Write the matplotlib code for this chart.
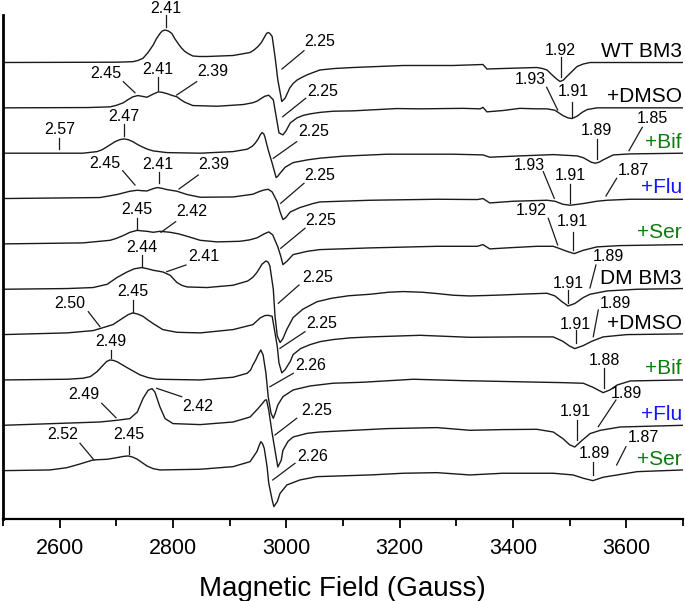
import matplotlib.pyplot as plt

plt.rcParams['font.family'] = ['Liberation Sans', 'DejaVu Sans']

# EPR spectra (first derivative): (field in Gauss, intensity in a.u.)
wt = [(2500, 0), (2700, 0.3), (2729, 0.8), (2738, 2), (2747, 4.2), (2756, 10), (2765, 17.5), (2771, 24),
      (2777, 29), (2781, 31.5), (2786, 32.5), (2792, 31.5), (2798, 29), (2803, 24), (2809, 19), (2815, 14.5),
      (2821, 11), (2828, 8.5), (2835, 6.5), (2847, 6), (2860, 6), (2906, 7), (2936, 10), (2943, 12.5),
      (2950, 16), (2956, 20), (2962, 26), (2965, 29), (2968, 30), (2971, 29), (2975, 26), (2980, 6),
      (2985, -17.5), (2992, -39), (2998, -35.5), (3006, -25.5), (3012, -21), (3019, -17.5), (3027, -15),
      (3036, -12.5), (3045, -10.5), (3059, -7.5), (3085, -6), (3118, -5), (3206, -3), (3294, -3), (3347, -2),
      (3354, -6.5), (3382, -6), (3442, -5), (3452, -6), (3460, -7.5), (3471, -13.5), (3477, -16.5),
      (3483, -19), (3489, -17.5), (3495, -14), (3504, -9), (3513, -4), (3524, -1.5), (3536, 0), (3589, 0),
      (3700, 0)]

wt_dmso = [(2500, 0), (2650, 0.3), (2689, 1), (2700, 2.5), (2712, 5), (2720, 8), (2729, 11), (2738, 12.3),
           (2746, 11.5), (2754, 10.6), (2764, 13.5), (2774, 16), (2781, 15.5), (2789, 14.3), (2798, 12.5),
           (2807, 11), (2814, 8), (2821, 5.6), (2835, 2.3), (2878, 1.6), (2924, 3.3), (2940, 5), (2948, 6.6),
           (2956, 9.5), (2962, 11.6), (2969, 12.6), (2977, 8), (2982, -8.4), (2987, -25), (2994, -27),
           (2999, -23.4), (3007, -15), (3019, -10), (3030, -7.5), (3042, -6), (3060, -4.5), (3082, -3.4),
           (3118, -3), (3195, -0.7), (3236, -1), (3312, -0.5), (3342, -1), (3347, 0.5), (3354, -4),
           (3382, -2.7), (3412, -0.5), (3442, -1), (3460, -1), (3474, -2.4), (3488, -7.7), (3497, -10),
           (3504, -10.7), (3513, -8.4), (3522, -4.5), (3531, -1.7), (3548, 0), (3700, 0)]

wt_bif = [(2500, 0), (2641, 0), (2666, 1.6), (2675, 3.5), (2684, 6.6), (2698, 11.6), (2706, 13.5),
          (2714, 14.3), (2721, 13.5), (2729, 11.6), (2738, 8.5), (2747, 6), (2756, 3.8), (2765, 2.3),
          (2789, 0.6), (2848, 0), (2906, 1.6), (2931, 4), (2940, 7), (2945, 10), (2950, 14), (2954, 18.3),
          (2957, 20.6), (2960, 19.5), (2962, 16.6), (2968, 3.3), (2975, -10), (2982, -24.4), (2985, -23),
          (2989, -20), (2998, -14), (3012, -9.4), (3037, -6.7), (3059, -5), (3100, -3), (3178, -1),
          (3294, -1), (3347, -1.7), (3359, -4), (3412, -2.7), (3471, -1.4), (3513, -2.7), (3524, -4.5),
          (3531, -6.7), (3538, -9), (3545, -10), (3552, -9), (3559, -6.7), (3577, -1.7), (3607, -0.7),
          (3700, 0)]

wt_flu = [(2500, 0), (2671, 1), (2701, 4), (2724, 7.3), (2737, 8.3), (2746, 7.8), (2754, 7.6), (2763, 9.5),
          (2772, 11), (2780, 10.3), (2789, 9), (2807, 7.3), (2825, 4), (2848, 1.3), (2906, 1.6), (2941, 4.3),
          (2950, 6.5), (2959, 8.3), (2968, 9.3), (2975, 6.6), (2984, -3.4), (2989, -13.4), (2994, -21),
          (2999, -19), (3007, -13.4), (3024, -9), (3047, -5), (3059, -3.4), (3148, -1.7), (3266, -0.7),
          (3337, -1), (3347, 0), (3359, -4.4), (3400, -2.7), (3460, -1.7), (3474, -2.7), (3488, -5.7),
          (3501, -6.7), (3524, -5), (3548, -2.7), (3566, -1.7), (3607, -0.7), (3700, -0.7)]

wt_ser = [(2500, 0), (2641, 1), (2689, 3.6), (2700, 5.5), (2712, 8.3), (2724, 11.6), (2737, 13.6),
          (2745, 13), (2754, 12.6), (2765, 11.6), (2777, 12.6), (2795, 11.6), (2810, 10), (2825, 7.6),
          (2848, 3.6), (2878, 2), (2918, 2.6), (2935, 4), (2948, 6), (2962, 10.3), (2969, 12), (2976, 9),
          (2985, -3), (2990, -12), (2994, -20.7), (3001, -17.4), (3012, -10.7), (3037, -7.4), (3059, -5.7),
          (3148, -4), (3266, -2.4), (3337, -2.4), (3347, -0.7), (3359, -5), (3389, -4), (3442, -2.4),
          (3471, -2.4), (3479, -4), (3495, -7.4), (3508, -9.7), (3524, -6.4), (3548, -3), (3589, -1.7),
          (3700, -0.7)]

dm = [(2500, 0), (2613, 0.7), (2659, 1.7), (2684, 5), (2701, 11.7), (2719, 17.3), (2732, 20.5), (2745, 21.7),
      (2755, 20.5), (2765, 19), (2782, 17.3), (2795, 14), (2807, 6.7), (2816, 3.8), (2825, 2.3), (2860, 1.7),
      (2906, 4), (2932, 8.3), (2941, 12), (2948, 16.7), (2957, 25), (2964, 28.3), (2968, 27), (2971, 23.3),
      (2977, 0), (2980, -26.7), (2984, -46.7), (2989, -53.3), (2994, -49.3), (3001, -40), (3012, -28.3),
      (3029, -20), (3054, -12.5), (3080, -9), (3110, -6.5), (3148, -5), (3180, -3), (3206, -2.3),
      (3240, -3), (3266, -4.3), (3295, -6), (3324, -6.7), (3355, -6.2), (3382, -5.7), (3420, -4.8),
      (3460, -4), (3474, -6.7), (3487, -12.7), (3497, -16.7), (3509, -14.3), (3524, -8.3), (3536, -5),
      (3566, -1.7), (3619, 0), (3700, 0.7)]

dm_dmso = [(2500, 0), (2613, 1.7), (2659, 4), (2671, 6), (2694, 10), (2712, 16.7), (2721, 20), (2729, 21.7),
           (2738, 20.5), (2747, 18.3), (2756, 14.5), (2765, 11), (2782, 5), (2807, 2.3), (2848, 1.7),
           (2906, 5), (2941, 10), (2954, 16.7), (2962, 19), (2968, 19.3), (2975, 18.3), (2978, 8.3),
           (2984, -11.7), (2987, -28.3), (2992, -38.3), (2998, -35), (3007, -26.7), (3012, -20), (3025, -14),
           (3042, -10), (3060, -7), (3082, -5), (3112, -3.3), (3148, -2.3), (3236, -0.7), (3324, -2.7),
           (3412, -2.3), (3471, -2.3), (3488, -6.7), (3500, -11.5), (3509, -14), (3524, -11), (3539, -6.7),
           (3559, -2.3), (3601, 0), (3700, 0.7)]

dm_bif = [(2500, 0), (2613, 0.7), (2641, 1.7), (2654, 3.3), (2666, 8.3), (2677, 15), (2683, 18.5),
          (2689, 20), (2695, 19.5), (2701, 18.3), (2719, 12.3), (2742, 5), (2757, 2.2), (2772, 0.7),
          (2848, 0), (2906, 2.7), (2931, 6.7), (2937, 10), (2941, 15), (2946, 20), (2950, 25), (2955, 30),
          (2959, 25), (2964, 6.7), (2968, -16.7), (2973, -33.3), (2977, -38.3), (2980, -34), (2985, -25),
          (2994, -16.7), (3012, -10), (3042, -6), (3082, -3.3), (3135, -2.3), (3224, 0.7), (3312, -0.7),
          (3400, -1.7), (3488, -2.7), (3524, -3.3), (3541, -7.3), (3559, -12.7), (3571, -10), (3584, -5),
          (3607, -1), (3700, 0)]

dm_flu = [(2500, 0), (2671, 3.3), (2701, 5), (2724, 6.7), (2737, 13.3), (2747, 26.7), (2756, 35),
          (2763, 36.7), (2768, 33.3), (2777, 18.3), (2786, 6.7), (2800, 1.7), (2848, 0.7), (2906, 3.3),
          (2936, 8.3), (2950, 16.7), (2958, 22), (2962, 25), (2965, 25.5), (2969, 15), (2975, -8),
          (2980, -25), (2985, -41.7), (2991, -35), (2994, -25), (3003, -16), (3012, -11.7), (3037, -8),
          (3059, -6.7), (3178, -3.3), (3266, -2.3), (3324, -5), (3382, -4.3), (3442, -4), (3471, -6.7),
          (3488, -13.3), (3500, -19.5), (3509, -21.7), (3522, -15), (3536, -8.3), (3554, -5), (3589, -1.7),
          (3700, 0)]

dm_ser = [(2500, 0), (2583, 0.7), (2613, 3), (2636, 6.7), (2659, 10.7), (2684, 11.4), (2701, 13),
          (2712, 14.2), (2721, 14.7), (2729, 13.5), (2737, 11.4), (2754, 4.7), (2765, 2), (2777, 0.7),
          (2848, 1.4), (2906, 4), (2936, 9), (2948, 19), (2952, 25), (2955, 29), (2958, 27), (2961, 22.4),
          (2966, 4), (2969, -12.6), (2975, -29.3), (2978, -36), (2984, -31), (2989, -22.6), (3001, -14.3),
          (3024, -9.3), (3054, -6), (3148, -4.3), (3206, -2.6), (3266, -2), (3324, -4.3), (3382, -2.6),
          (3471, -2.6), (3506, -4.3), (3524, -7.6), (3541, -10), (3559, -6.6), (3584, -4.3), (3619, -1),
          (3700, 0.7)]

spectra = [wt, wt_dmso, wt_bif, wt_flu, wt_ser, dm, dm_dmso, dm_bif, dm_flu, dm_ser]
samples = ['WT BM3', '+DMSO', '+Bif', '+Flu', '+Ser', 'DM BM3', '+DMSO', '+Bif', '+Flu', '+Ser']
sample_colors = ['black', 'black', '#0f7a0f', '#1414ff', '#0f7a0f',
                 'black', 'black', '#0f7a0f', '#1414ff', '#0f7a0f']

# g-value labels: text, text centre, leader start, leader end (pixel positions on the figure)
g_labels = [
    ('2.41', 165.5, 7, 165.7, 15, 165.7, 26.7), ('2.25', 320, 40.7, 304, 50.7, 282, 69),
    ('1.92', 560.7, 49.3, 560.7, 57, 560.7, 77),
    ('2.45', 106, 72.3, 123.3, 81.7, 135, 92.7), ('2.41', 157.7, 68.3, 158.3, 77.3, 158.3, 90),
    ('2.39', 212.3, 70.7, 196.7, 81.7, 176.7, 95), ('2.25', 322.7, 90, 305.7, 98.3, 282.7, 116.7),
    ('1.93', 530, 78.3, 546.7, 87.3, 557.7, 110), ('1.91', 573.3, 90.7, 572.3, 101.7, 572.3, 116.7),
    ('2.57', 59.3, 128.3, 59.3, 138.3, 59.3, 149.3), ('2.47', 124.3, 115, 124.3, 124, 124.3, 136),
    ('2.25', 314, 130, 296.7, 141.7, 273.3, 158.3), ('1.89', 596.7, 129.3, 596.7, 139.3, 596.7, 159.3),
    ('1.85', 652.7, 117.3, 642.3, 127.3, 629, 150.7),
    ('2.45', 105, 161.7, 122.7, 170.7, 135, 185), ('2.41', 158.3, 163.3, 159, 172.3, 159, 183.3),
    ('2.39', 214, 163.3, 198.3, 175, 179, 189), ('2.25', 320, 174, 304, 183.3, 280.7, 203.3),
    ('1.93', 529, 164, 543.3, 171.7, 554.3, 198.3), ('1.91', 570.7, 174, 570, 184, 570, 203.3),
    ('1.87', 633.3, 169.3, 616.7, 178.3, 606, 196),
    ('2.45', 137.3, 208.3, 137.3, 218.3, 137.3, 230), ('2.42', 191.7, 210, 175.7, 221.7, 161, 232.3),
    ('2.25', 320.7, 219.3, 305, 228.3, 280.7, 248.3), ('1.92', 531, 209.3, 548.3, 218.3, 557.7, 245),
    ('1.91', 572.7, 220, 573.3, 231.7, 573.3, 250),
    ('2.44', 142.3, 246.7, 142.3, 255, 142.3, 266.7), ('2.41', 204, 255, 186, 265, 166.7, 271.7),
    ('2.25', 317.3, 276, 299, 285, 278.3, 303.3), ('1.91', 568.3, 281.7, 568.3, 290, 568.3, 303.3),
    ('1.89', 608, 255, 596, 265, 590, 288),
    ('2.50', 70, 301.7, 88.3, 311.7, 100, 326.7), ('2.45', 133.3, 290, 133.3, 300, 133.3, 311.7),
    ('2.25', 321.7, 321.7, 305, 331.7, 280, 348.3), ('1.91', 575.7, 323.3, 575.7, 330, 575.7, 343.3),
    ('1.89', 615, 301.7, 598.3, 310, 593.3, 336.7),
    ('2.49', 111, 340.7, 111, 350, 111, 358.3), ('2.26', 310.7, 364, 293.3, 373.3, 270, 386.7),
    ('1.88', 604, 359, 604, 368.3, 604, 388.3),
    ('2.49', 84.3, 393.3, 101.7, 403.3, 116, 417.7), ('2.42', 197.7, 405, 181.7, 396.7, 156.7, 388.3),
    ('2.25', 316.7, 409, 296.7, 418.3, 275, 435), ('1.91', 575.7, 410, 576.7, 420, 576.7, 440),
    ('1.89', 626.7, 391.7, 616, 400, 598.3, 426.7),
    ('2.52', 62.7, 433.3, 80, 443.3, 94, 460), ('2.45', 129.3, 433.3, 129.3, 446, 129.3, 454),
    ('2.26', 312.7, 455, 295, 463.3, 272.7, 480), ('1.89', 594, 452.3, 593.3, 461.7, 593.3, 475),
    ('1.87', 643.3, 436.7, 626, 446.7, 616.7, 465),
]


def gx(xp):
    # figure pixel column -> field
    return 2500 + (xp - 3) / 0.5667


fig = plt.figure(figsize=(6.85, 6.01), dpi=100)
ax = fig.add_axes([3 / 685, 82 / 601, 680 / 685, 504 / 601])

for i, (spec, name, col) in enumerate(zip(spectra, samples, sample_colors)):
    off = -(62.5 + 45.35 * i)
    field = [p[0] for p in spec]
    inten = [p[1] + off for p in spec]
    ax.plot(field, inten, color='#1a1a1a', lw=1.0, solid_joinstyle='round')
    ax.text(3698, off + 5.6, name, ha='right', va='baseline', fontsize=15, color=col)

for txt, tx, ty, x1, y1, x2, y2 in g_labels:
    ax.text(gx(tx), -ty - 5.8, txt, ha='center', va='baseline', fontsize=11.5, clip_on=False)
    ax.plot([gx(x1), gx(x2)], [-y1, -y2], color='#1a1a1a', lw=0.9, clip_on=False)

ax.set_xlim(2500, 3700)
ax.set_ylim(-519, -15)
ax.set_xticks([2600, 2800, 3000, 3200, 3400, 3600])
ax.set_xticks([2500, 2700, 2900, 3100, 3300, 3500, 3700], minor=True)
ax.tick_params(axis='x', which='major', direction='out', length=6.5, width=1.3, labelsize=15.5, pad=7)
ax.tick_params(axis='x', which='minor', direction='out', length=5, width=1.3)
ax.set_yticks([])
ax.spines['top'].set_visible(False)
ax.spines['right'].set_visible(False)
ax.spines['left'].set_linewidth(2.0)
ax.spines['bottom'].set_linewidth(1.6)

fig.text(342 / 685, 5 / 601, 'Magnetic Field (Gauss)', ha='center', va='baseline', fontsize=20)

fig.savefig('out.png', dpi=100)
